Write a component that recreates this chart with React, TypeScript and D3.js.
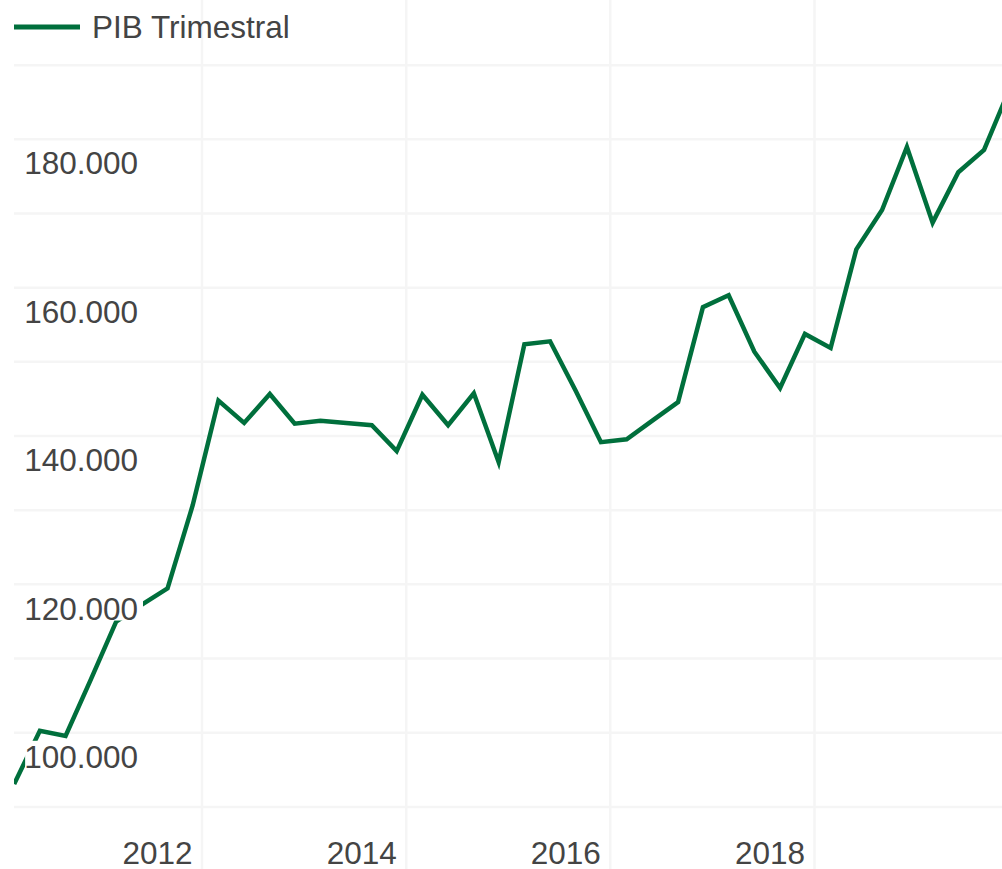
import React, { useEffect, useRef } from 'react';
import * as d3 from 'd3';

// ---- Data ----
const seriesName = 'PIB Trimestral';

const quarterDates = [
  '2010-08-06', '2010-11-06',
  '2011-02-06', '2011-05-06', '2011-08-06', '2011-11-06',
  '2012-02-06', '2012-05-06', '2012-08-06', '2012-11-06',
  '2013-02-06', '2013-05-06', '2013-08-06', '2013-11-06',
  '2014-02-06', '2014-05-06', '2014-08-06', '2014-11-06',
  '2015-02-06', '2015-05-06', '2015-08-06', '2015-11-06',
  '2016-02-06', '2016-05-06', '2016-08-06', '2016-11-06',
  '2017-02-06', '2017-05-06', '2017-08-06', '2017-11-06',
  '2018-02-06', '2018-05-06', '2018-08-06', '2018-11-06',
  '2019-02-06', '2019-05-06', '2019-08-06', '2019-11-06',
  '2020-02-06', '2020-05-06',
];

const pibValues = [
  96300, 103500,
  102800, 110300, 118200, 120500,
  122700, 133900, 148000, 145000,
  148900, 144900, 145300, 145000,
  144700, 141200, 148800, 144700,
  149000, 139700, 155600, 156000,
  149300, 142400, 142800, 145300,
  147800, 160600, 162200, 154600,
  149700, 157000, 155100, 168400,
  173700, 182200, 172000, 178800,
  181800, 189900,
];

const yTickValues = [100000, 120000, 140000, 160000, 180000];
const yGridValues = [90000, 100000, 110000, 120000, 130000, 140000, 150000, 160000, 170000, 180000, 190000];
const xTickYears = [2012, 2014, 2016, 2018];

// ---- Layout ----
const W = 1002;
const H = 869;
const plotLeft = 14;
const gridShiftX = 44.5;
const gridShiftY = -24;
const fontFamily = '"Liberation Sans", Arial, sans-serif';
const fontSize = 31.5;
const textColor = '#444444';
const lineColor = '#006f3c';
const gridColor = '#f5f5f5';

const locale = d3.formatLocale({ decimal: ',', thousands: '.', grouping: [3], currency: ['', ''] });
const fmt = locale.format(',d');

export default function App() {
  const ref = useRef<SVGSVGElement | null>(null);

  useEffect(() => {
    const svg = d3.select(ref.current);
    svg.selectAll('*').remove();

    const parse = (s: string) => new Date(s + 'T00:00:00Z');
    const data = quarterDates.map((d, i) => ({ date: parse(d), value: pibValues[i] }));

    const x = d3
      .scaleUtc()
      .domain([Date.UTC(2012, 0, 1), Date.UTC(2018, 0, 1)])
      .range([157.5, 770]);
    const y = d3.scaleLinear().domain([100000, 180000]).range([756.7, 163.3]);

    svg.append('rect').attr('width', W).attr('height', H).attr('fill', '#ffffff');

    // grid
    const grid = svg.append('g');
    grid
      .selectAll('line.h')
      .data(yGridValues)
      .join('line')
      .attr('x1', plotLeft)
      .attr('x2', W)
      .attr('y1', (d) => y(d) + gridShiftY)
      .attr('y2', (d) => y(d) + gridShiftY)
      .attr('stroke', gridColor)
      .attr('stroke-width', 2.5);
    grid
      .selectAll('line.v')
      .data(xTickYears)
      .join('line')
      .attr('x1', (d) => x(Date.UTC(d, 0, 1)) + gridShiftX)
      .attr('x2', (d) => x(Date.UTC(d, 0, 1)) + gridShiftX)
      .attr('y1', 0)
      .attr('y2', H)
      .attr('stroke', gridColor)
      .attr('stroke-width', 2.5);

    // clip
    svg
      .append('clipPath')
      .attr('id', 'plotclip')
      .append('rect')
      .attr('x', plotLeft)
      .attr('y', 0)
      .attr('width', W - plotLeft)
      .attr('height', H);

    const line = d3
      .line<{ date: Date; value: number }>()
      .x((d) => x(d.date))
      .y((d) => y(d.value));

    svg
      .append('path')
      .datum(data)
      .attr('clip-path', 'url(#plotclip)')
      .attr('d', line)
      .attr('fill', 'none')
      .attr('stroke', lineColor)
      .attr('stroke-width', 4.5)
      .attr('stroke-linejoin', 'miter');

    // y labels with white background
    const labelRight = 138;
    const yl = svg.append('g');
    yTickValues.forEach((v) => {
      const g = yl.append('g');
      const bg = g.append('rect').attr('fill', '#ffffff');
      const base = y(v) + fontSize * 0.355;
      const t = g
        .append('text')
        .attr('x', labelRight)
        .attr('y', base)
        .attr('text-anchor', 'end')
        .attr('font-family', fontFamily)
        .attr('font-size', fontSize)
        .attr('fill', textColor)
        .text(fmt(v));
      const node = t.node() as SVGTextElement;
      const w = node.getComputedTextLength();
      bg.attr('x', labelRight - w + 1)
        .attr('y', base - fontSize * 0.86)
        .attr('width', w + 4)
        .attr('height', fontSize * 0.86 + 1);
    });

    // x labels
    svg
      .append('g')
      .selectAll('text')
      .data(xTickYears)
      .join('text')
      .attr('x', (d) => x(Date.UTC(d, 0, 1)))
      .attr('y', 864)
      .attr('text-anchor', 'middle')
      .attr('font-family', fontFamily)
      .attr('font-size', fontSize)
      .attr('fill', textColor)
      .text((d) => String(d));

    // legend
    const lg = svg.append('g');
    lg.append('line')
      .attr('x1', 14)
      .attr('x2', 80)
      .attr('y1', 27)
      .attr('y2', 27)
      .attr('stroke', lineColor)
      .attr('stroke-width', 5);
    lg.append('text')
      .attr('x', 92)
      .attr('y', 37.5)
      .attr('font-family', fontFamily)
      .attr('font-size', fontSize)
      .attr('fill', textColor)
      .text(seriesName);
  }, []);

  return (
    <svg
      ref={ref}
      width={W}
      height={H}
      style={{ position: 'absolute', left: 0, top: 0, display: 'block' }}
    />
  );
}
